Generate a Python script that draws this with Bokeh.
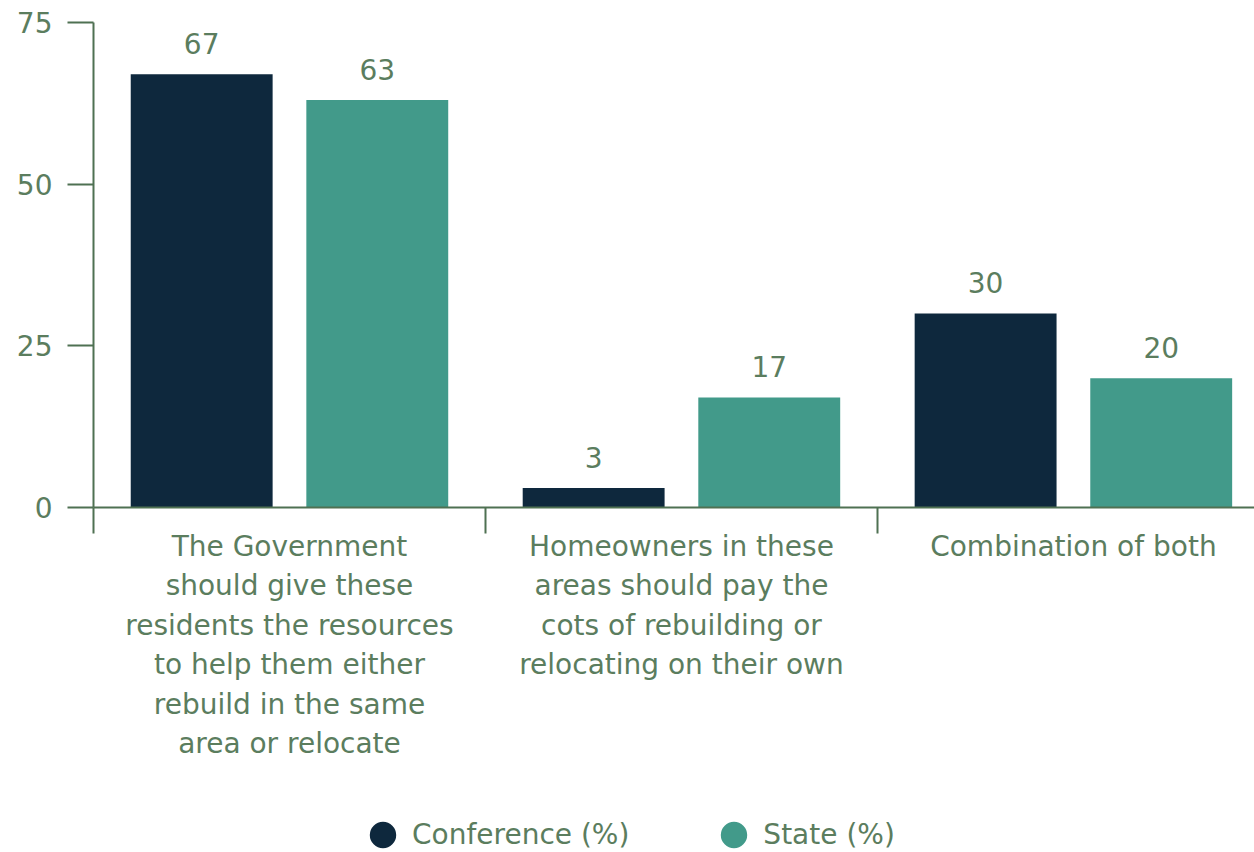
from bokeh.plotting import figure
from bokeh.models import Range1d, FixedTicker, Legend, LegendItem, ColumnDataSource
from bokeh.layouts import column
from bokeh.core.properties import value
from bokeh.embed import file_html
from bokeh.resources import INLINE

categories = [
    "The Government\nshould give these\nresidents the resources\nto help them either\nrebuild in the same\narea or relocate",
    "Homeowners in these\nareas should pay the\ncots of rebuilding or\nrelocating on their own",
    "Combination of both",
]
conference = [67, 3, 30]
state = [63, 17, 20]
series_names = ["Conference (%)", "State (%)"]
y_ticks = [0, 25, 50, 75]

NAVY = "#0e283d"
TEAL = "#429a8a"
TEXT = "#5b7d5e"
AXIS = "#4f7152"
FONT = "DejaVu Sans"
FS = "28px"

idx = list(range(len(categories)))
conf_x = [i + 0.5 - 0.224 for i in idx]
state_x = [i + 0.5 + 0.224 for i in idx]

p = figure(width=1254, height=809, output_backend="svg", toolbar_location=None,
           x_range=Range1d(0, 2.962), y_range=Range1d(0, 75),
           min_border_left=93, min_border_top=22, min_border_right=0, min_border_bottom=302)
p.outline_line_color = None
p.xgrid.grid_line_color = None
p.ygrid.grid_line_color = None
p.background_fill_color = "white"
p.border_fill_color = "white"

src_c = ColumnDataSource(dict(x=conf_x, top=conference, lab=[str(v) for v in conference]))
src_s = ColumnDataSource(dict(x=state_x, top=state, lab=[str(v) for v in state]))

p.vbar(x="x", top="top", width=0.362, source=src_c, fill_color=NAVY, line_color=None)
p.vbar(x="x", top="top", width=0.362, source=src_s, fill_color=TEAL, line_color=None)

for src in (src_c, src_s):
    p.text(x="x", y="top", text="lab", source=src, text_font=value(FONT),
           text_font_size=FS, text_color=TEXT, text_align="center",
           text_baseline="alphabetic", y_offset=-31)

# x axis
p.xaxis.ticker = FixedTicker(ticks=[i + 0.5 for i in idx], minor_ticks=[0, 1, 2, 3])
p.xaxis.major_label_overrides = {i + 0.5: c for i, c in zip(idx, categories)}
p.xaxis.major_tick_line_color = None
p.xaxis.major_tick_out = 0
p.xaxis.major_tick_in = 0
p.xaxis.minor_tick_out = 26
p.xaxis.minor_tick_in = 0
p.xaxis.minor_tick_line_color = AXIS
p.xaxis.minor_tick_line_width = 2
p.xaxis.axis_line_color = AXIS
p.xaxis.axis_line_width = 2
p.xaxis.major_label_text_font = FONT
p.xaxis.major_label_text_font_size = FS
p.xaxis.major_label_text_color = TEXT
p.xaxis.major_label_text_line_height = 1.197
p.xaxis.major_label_standoff = -4

# y axis
p.yaxis.ticker = FixedTicker(ticks=y_ticks, minor_ticks=[])
p.yaxis.major_tick_out = 26
p.yaxis.major_tick_in = 0
p.yaxis.major_tick_line_color = AXIS
p.yaxis.major_tick_line_width = 2
p.yaxis.axis_line_color = AXIS
p.yaxis.axis_line_width = 2
p.yaxis.major_label_text_font = FONT
p.yaxis.major_label_text_font_size = FS
p.yaxis.major_label_text_color = TEXT
p.yaxis.major_label_standoff = 15

# legend strip
q = figure(width=1254, height=43, output_backend="svg", toolbar_location=None,
           x_range=Range1d(0, 1), y_range=Range1d(0, 1),
           x_axis_type=None, y_axis_type=None,
           min_border_left=0, min_border_right=0, min_border_top=0, min_border_bottom=0)
q.outline_line_color = None
q.xgrid.grid_line_color = None
q.ygrid.grid_line_color = None
q.background_fill_color = "white"
q.border_fill_color = "white"

dc = q.ellipse(x=[-5], y=[-5], width=26, height=26, width_units="screen",
               height_units="screen", fill_color=NAVY, line_color=None)
ds = q.ellipse(x=[-5], y=[-5], width=26, height=26, width_units="screen",
               height_units="screen", fill_color=TEAL, line_color=None)
legend = Legend(items=[LegendItem(label=series_names[0], renderers=[dc]),
                       LegendItem(label=series_names[1], renderers=[ds])],
                orientation="horizontal", location=(273, 1),
                label_text_font=FONT, label_text_font_size=FS, label_text_color=TEXT,
                glyph_width=33, glyph_height=33, label_standoff=13, spacing=88,
                border_line_color=None, background_fill_alpha=0, padding=0, margin=0)
q.add_layout(legend, "center")

layout = column(p, q, spacing=0)
open("out.html", "w").write(file_html(layout, INLINE))
